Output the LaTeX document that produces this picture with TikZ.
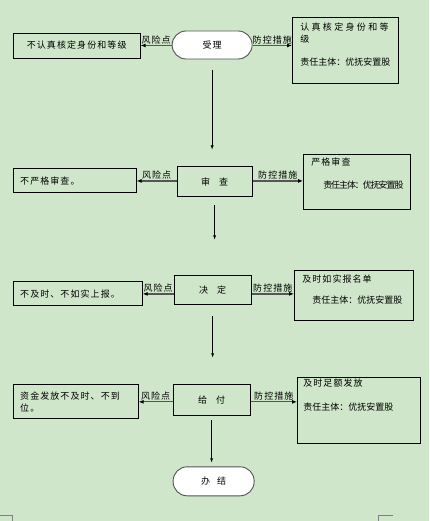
\documentclass[tikz,border=0pt]{standalone}
\usepackage{fontspec}
\setmainfont{Noto Sans CJK SC}[LetterSpace=12]
\newfontfamily\dutyfont{Noto Sans CJK SC}
\newfontfamily\dutytight{Noto Sans CJK SC}[LetterSpace=-12]
\newfontfamily\widefont{Noto Sans CJK SC}[LetterSpace=26]
\usepackage{tikz}
\usetikzlibrary{arrows.meta}

\definecolor{pagegreen}{RGB}{207,230,202}
\definecolor{linegray}{RGB}{85,85,85}

\begin{document}
\begin{tikzpicture}[>=latex, x=1pt, y=-1pt,
    every node/.style={font=\fontsize{9}{11.5}\selectfont, inner sep=0pt},
    endnode/.style={draw=linegray, fill=white, line width=0.9pt, rounded corners=14pt},
    stepbox/.style={draw, line width=0.9pt},
    riskbox/.style={draw, line width=0.9pt, inner xsep=7pt},
    measbox/.style={draw, line width=0.9pt, anchor=north west},
    sideline/.style={draw=linegray, line width=1.3pt, -{Latex[color=black, length=5pt, width=4pt]}}]
    \fill [pagegreen] (0,0) rectangle (429,521);
    % steps of the flow
    \node [endnode, minimum width=80pt, minimum height=28pt] (shouli) at (212,45) {受理};
    \node [stepbox, minimum width=75pt, minimum height=30pt] (shencha) at (214.5,182) {审\hspace{1em}查};
    \node [stepbox, minimum width=77pt, minimum height=29pt] (jueding) at (212.5,290.5) {决\hspace{1em}定};
    \node [stepbox, minimum width=77pt, minimum height=31pt] (geifu) at (211.5,400.5) {给\hspace{1em}付};
    \node [endnode, minimum width=81pt, minimum height=29pt] (banjie) at (213.5,481.5) {办\hspace{0.8em}结};
    % risk points
    \node [riskbox, minimum width=127pt, minimum height=25pt] (risk1) at (76.5,45.5) {不认真核定身份和等级};
    \node [riskbox, minimum width=123pt, minimum height=24pt, text width=109pt, align=left] (risk2) at (74.5,181) {不严格审查。};
    \node [riskbox, minimum width=129pt, minimum height=24pt, text width=115pt, align=left] (risk3) at (77.5,294) {不及时、不如实上报。};
    \node [riskbox, minimum width=125pt, minimum height=34pt, text width=111pt, align=left] (risk4) at (75.5,402) {资金发放不及时、不到\\位。};
    % measures
    \node [measbox, minimum width=106pt, minimum height=66pt] (meas1) at (292,17) {};
    \node [anchor=north west, align=left, font=\widefont\fontsize{9}{11.5}\selectfont] (meastext1) at ([shift={(8,6)}]meas1.north west) {认真核定身份和等\\级};
    \node [anchor=north west, font=\dutyfont\fontsize{9}{11.5}\selectfont] (duty1) at ([shift={(8,41)}]meas1.north west) {责任主体：优抚安置股};
    \node [measbox, minimum width=107pt, minimum height=55pt] (meas2) at (303,154) {};
    \node [anchor=north west] (meastext2) at ([shift={(8,4)}]meas2.north west) {严格审查};
    \node [anchor=north west, font=\dutytight\fontsize{9}{11.5}\selectfont] (duty2) at ([shift={(20,27)}]meas2.north west) {责任主体：优抚安置股};
    \node [measbox, minimum width=119pt, minimum height=50pt] (meas3) at (294,270) {};
    \node [anchor=north west] (meastext3) at ([shift={(8,5)}]meas3.north west) {及时如实报名单};
    \node [anchor=north west, font=\dutyfont\fontsize{9}{11.5}\selectfont] (duty3) at ([shift={(18,26)}]meas3.north west) {责任主体：优抚安置股};
    \node [measbox, minimum width=123pt, minimum height=66pt] (meas4) at (297,377) {};
    \node [anchor=north west] (meastext4) at ([shift={(6,2)}]meas4.north west) {及时足额发放};
    \node [anchor=north west, font=\dutyfont\fontsize{9}{11.5}\selectfont] (duty4) at ([shift={(6,26)}]meas4.north west) {责任主体：优抚安置股};
    % side arrows
    \foreach \s/\r/\m in {shouli/risk1/meas1, shencha/risk2/meas2, jueding/risk3/meas3, geifu/risk4/meas4} {
        \draw [sideline] (\r.east -| \s.west) -- node [above=1pt] (rlab-\r) {风险点} (\r.east);
        \draw [sideline] (\r.east -| \s.east) -- node [above=1pt] (mlab-\m) {防控措施} (\r.east -| \m.west);
    }
    % main flow
    \foreach \a/\b/\s/\e in {shouli/shencha/11/17, shencha/jueding/8/36, jueding/geifu/11/27, geifu/banjie/4/4}
        \draw [->, shorten <=\s pt, shorten >=\e pt] (\a.south) -- (\a.south |- \b.north);
    % page corners
    \draw [gray] (0,515) -| (12,521);
    \draw [gray] (393,515) -| (378,521);
\end{tikzpicture}
\end{document}
